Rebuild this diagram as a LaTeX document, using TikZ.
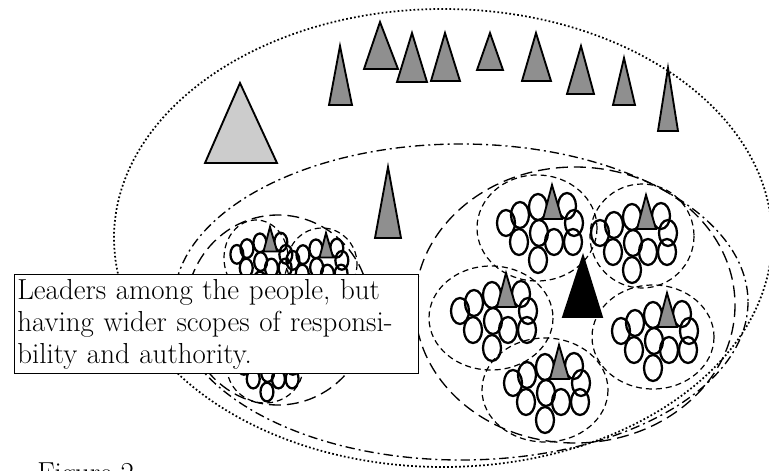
\documentclass[tikz,border=0pt]{standalone}
\begin{document}
\begin{tikzpicture}[x=0.75pt,y=-0.75pt,
    outer/.style={line width=1.3pt,dash pattern=on 1.3pt off 1.7pt},
    middle/.style={line width=1pt,dash pattern=on 7pt off 3pt on 1.5pt off 3pt},
    group/.style={line width=1pt,dash pattern=on 9pt off 4.5pt},
    subgroup/.style={line width=0.9pt,dash pattern=on 4.5pt off 3pt},
    person/.style={line width=1.7pt},
    leader/.style={draw,line width=1.4pt,fill=black!44,line join=miter},
    elder/.style={leader,fill=black!20},
    head/.style={leader,fill=black},
    note/.style={draw,line width=1pt,fill=white,align=left,inner xsep=2pt,
      text width=299pt,minimum height=72pt,font=\fontsize{21.7}{24}\selectfont},
    cluster/.pic={
      \foreach \dx/\dy in {-46/38,-32/30,-14/22,15/21,-33/57,-13/48,2/57,22/38,21/57,-14/75}
        \draw[person] (\dx,\dy) ellipse [x radius=9,y radius=13];
      \draw[leader] (0,0) -- (-9,34) -- (10,34) -- cycle;
    }]
  \useasboundingbox (0,0) rectangle (769,471);
  \clip (0,0) rectangle (769,471);
  % boundaries
  \draw[outer] (443,238) ellipse [x radius=329,y radius=229];
  \draw[middle] (461,302) ellipse [x radius=287,y radius=158];
  \draw[group] (575,305) ellipse [x radius=160,y radius=138];
  \draw[group] (278,310) ellipse [x radius=92,y radius=95];
  % sub groups
  \draw[subgroup] (537,228) ellipse [x radius=60,y radius=53];
  \draw[subgroup] (642,236) ellipse [x radius=52,y radius=52];
  \draw[subgroup] (653,337) ellipse [x radius=61,y radius=52];
  \draw[subgroup] (491,318) ellipse [x radius=62,y radius=52];
  \draw[subgroup] (545,390) ellipse [x radius=63,y radius=52];
  \draw[subgroup] (256,258) ellipse [x radius=32,y radius=38];
  \draw[subgroup] (322,264) ellipse [x radius=35,y radius=36];
  \draw[subgroup] (265,367) ellipse [x radius=38,y radius=36];
  % people
  \pic at (552,185) {cluster};
  \pic at (646,195) {cluster};
  \pic at (667,293) {cluster};
  \pic at (506,273) {cluster};
  \pic at (559,345) {cluster};
  \pic[scale=0.72] at (270,227) {cluster};
  \pic[scale=0.72] at (326,233) {cluster};
  \pic[scale=0.72] at (277,338) {cluster};
  % leaders
  \draw[elder] (240,83) -- (205,163) -- (277,163) -- cycle;
  \draw[leader] (340,46) -- (329,105) -- (352,105) -- cycle;
  \draw[leader] (380,22) -- (364,69) -- (398,69) -- cycle;
  \draw[leader] (412,33) -- (397,82) -- (427,82) -- cycle;
  \draw[leader] (445,33) -- (431,81) -- (460,81) -- cycle;
  \draw[leader] (490,33) -- (477,70) -- (503,70) -- cycle;
  \draw[leader] (536,33) -- (522,81) -- (551,81) -- cycle;
  \draw[leader] (581,46) -- (567,94) -- (594,94) -- cycle;
  \draw[leader] (624,58) -- (613,105) -- (635,105) -- cycle;
  \draw[leader] (668,68) -- (658,131) -- (678,131) -- cycle;
  \draw[leader] (388,167) -- (375,238) -- (401,238) -- cycle;
  \draw[head] (583,256) -- (563,317) -- (602,317) -- cycle;
  % texts
  \node[note,anchor=north west] (note) at (14,274)
    {Leaders among the people, but\\having wider scopes of responsi-\\bility and authority.};
  \node[anchor=base west,inner sep=0pt,font=\fontsize{21.7}{24}\selectfont] (caption) at (37,482) {Figure 2};
\end{tikzpicture}
\end{document}
